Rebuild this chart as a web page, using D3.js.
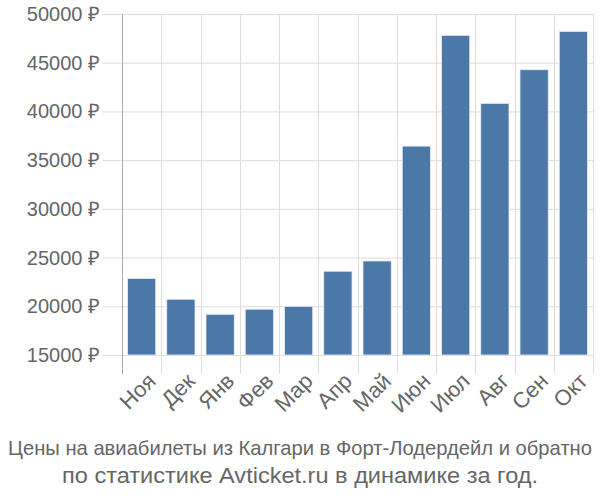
<!DOCTYPE html>
<html><head><meta charset="utf-8">
<script src="https://cdn.jsdelivr.net/npm/d3@7"></script>
<style>body{margin:0;background:#fff}</style>
</head><body>
<svg id="c" width="600" height="500"></svg>
<script>
const categories = ["Ноя","Дек","Янв","Фев","Мар","Апр","Май","Июн","Июл","Авг","Сен","Окт"];
const prices = [22850, 20720, 19180, 19700, 20000, 23600, 24650, 36440, 47810, 40830, 44280, 48220];
const yTicks = [15000, 20000, 25000, 30000, 35000, 40000, 45000, 50000];
const titleLines = ["Цены на авиабилеты из Калгари в Форт-Лодердейл и обратно", "по статистике Avticket.ru в динамике за год."];

const svg = d3.select("#c");
const L = 122, R = 593, T = 14, B = 355;
const x = d3.scaleBand().domain(categories).range([L, R]).paddingInner(0.28).paddingOuter(0.14);
const xb = d3.scaleBand().domain(categories).range([L, R]);
const y = d3.scaleLinear().domain([15000, 50000]).range([B, T]);

// horizontal grid
svg.append("g").selectAll("line").data(yTicks).join("line")
  .attr("x1", L - 20).attr("x2", R).attr("y1", d => y(d) + 0.5).attr("y2", d => y(d) + 0.5)
  .attr("stroke", "#ddd").attr("stroke-width", 1);
// vertical grid + ticks
const vx = categories.map(c => xb(c)).concat([R]);
svg.append("g").selectAll("line").data(vx).join("line")
  .attr("x1", d => Math.round(d) + 0.5).attr("x2", d => Math.round(d) + 0.5)
  .attr("y1", T).attr("y2", B + 19)
  .attr("stroke", "#ddd").attr("stroke-width", 1);
// y axis line
svg.append("line").attr("x1", L + 0.5).attr("x2", L + 0.5).attr("y1", T).attr("y2", B + 19)
  .attr("stroke", "#aaa").attr("stroke-width", 1);

// bars
svg.append("g").selectAll("rect").data(prices).join("rect")
  .attr("x", (d, i) => x(categories[i]))
  .attr("width", x.bandwidth())
  .attr("y", d => y(d))
  .attr("height", d => y(15000) - y(d))
  .attr("fill", "#4c78a8").attr("stroke", "#e8eef5").attr("stroke-width", 0.8);

// y labels
svg.append("g").selectAll("text").data(yTicks).join("text")
  .attr("x", 100).attr("y", d => y(d)).attr("dy", "0.35em")
  .attr("text-anchor", "end")
  .attr("font-family", "'Liberation Sans', Arial, sans-serif").attr("font-size", 20)
  .attr("fill", "#666").text(d => d + " ₽");

// x labels
svg.append("g").selectAll("text").data(categories).join("text")
  .attr("transform", d => `translate(${x(d) + x.bandwidth() / 2 + 10},${B + 22}) rotate(-45)`)
  .attr("text-anchor", "end").attr("dy", "0.35em")
  .attr("font-family", "'Liberation Sans', Arial, sans-serif").attr("font-size", 22)
  .attr("fill", "#666").text(d => d);

// title
const tg = svg.append("g").attr("font-family", "'Liberation Sans', Arial, sans-serif")
  .attr("fill", "#666").attr("text-anchor", "middle");
tg.append("text").attr("x", 300).attr("y", 455).attr("font-size", 20.2).text(titleLines[0]);
tg.append("text").attr("x", 300).attr("y", 483).attr("font-size", 21.5)
  .attr("textLength", 476).attr("lengthAdjust", "spacingAndGlyphs").text(titleLines[1]);
</script>
</body></html>
